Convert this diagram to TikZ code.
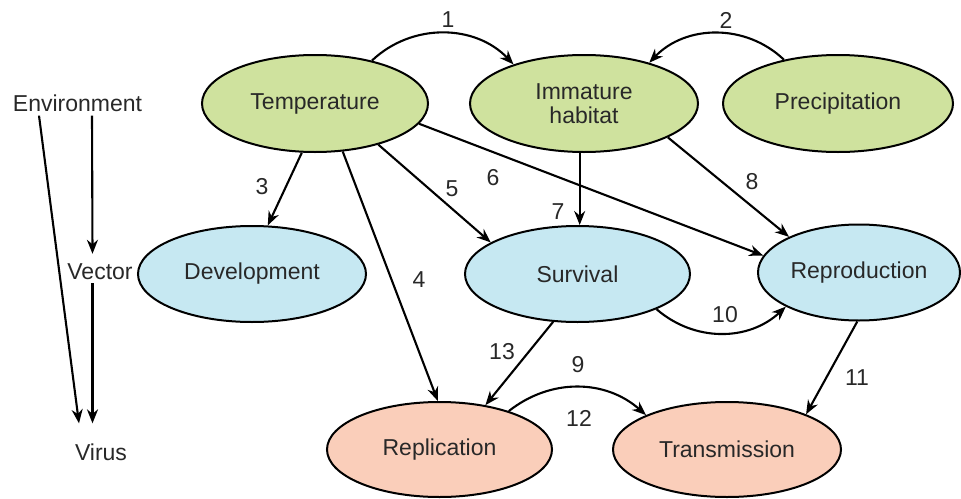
\documentclass[tikz,border=0pt]{standalone}
\usepackage{fontspec}
\setmainfont{Liberation Sans}
\usetikzlibrary{shapes.geometric,arrows.meta}
\definecolor{envgreen}{RGB}{207,226,158}
\definecolor{vecblue}{RGB}{198,232,242}
\definecolor{virpeach}{RGB}{250,206,186}
\definecolor{txt}{RGB}{40,40,40}
\begin{document}
\begin{tikzpicture}[x=1pt,y=-1pt,
  every node/.style={font=\fontsize{23}{26}\selectfont, text=txt},
  oval/.style={ellipse, draw=black, line width=2, inner sep=0pt, minimum height=97, align=center},
  envn/.style={oval, fill=envgreen},
  vecn/.style={oval, fill=vecblue},
  virn/.style={oval, fill=virpeach},
  arr/.style={line width=2.1, -{Stealth[length=14,width=11]}},
  lab/.style={inner sep=0pt}
]
\useasboundingbox (0,0) rectangle (961,498);
% nodes
\node[envn, minimum width=226] (temp) at (315,103.5) {Temperature};
\node[envn, minimum width=228] (imm) at (584,103.5) {Immature\\[-2pt]habitat};
\node[envn, minimum width=230] (prec) at (838,103.5) {Precipitation};
\node[vecn, minimum width=228, minimum height=96] (dev) at (252,274) {Development};
\node[vecn, minimum width=225, minimum height=96] (surv) at (577.5,274) {Survival};
\node[vecn, minimum width=202, minimum height=96] (repro) at (859,272.5) {Reproduction};
\node[virn, minimum width=225, minimum height=95] (repl) at (439.5,449.5) {Replication};
\node[virn, minimum width=228, minimum height=95] (trans) at (727,449.5) {Transmission};
% left labels
\node[lab] (env) at (77.5,103) {Environment};
\node[lab] (vec) at (100,272) {Vector};
\node[lab] (vir) at (101,452) {Virus};
\draw[arr] ([xshift=-38.5,yshift=-4]env.south) -- ([xshift=-22,yshift=20]vir.north);
\draw[arr] ([xshift=14.5,yshift=-4]env.south) -- ([xshift=-7.5,yshift=10]vec.north);
\draw[arr] ([xshift=-7.5,yshift=-3]vec.south) -- ([xshift=-8.5,yshift=20]vir.north);
% edges
\draw[arr] (temp.37) to[bend left=45] (imm.151);
\draw[arr] (prec.141) to[bend right=45] (imm.32);
\draw[arr] (temp.-105) -- (dev.72);
\draw[arr] (temp.-60) -- (repl.92);
\draw[arr] (temp.-33) -- (surv.160);
\draw[arr] (temp.-11) -- (repro.170);
\draw[arr] (imm.-95) -- (imm.-95 |- surv.north);
\draw[arr] (imm.-22) -- (repro.153);
\draw[arr] (surv.-24) to[bend right=42] (repro.-155);
\draw[arr] (repro.-92) -- (trans.24.5);
\draw[arr] (surv.-117) -- (repl.44);
\draw[arr] (repl.29) to[bend left=40] (trans.157);
% edge labels
\node[lab] (l1) at (448,20) {1};
\node[lab] (l2) at (726,20) {2};
\node[lab] (l3) at (262,187) {3};
\node[lab] (l4) at (419,280) {4};
\node[lab] (l5) at (452,189) {5};
\node[lab] (l6) at (493,178) {6};
\node[lab] (l7) at (558,212) {7};
\node[lab] (l8) at (752,182) {8};
\node[lab] (l9) at (578,365) {9};
\node[lab] (l10) at (725,315) {10};
\node[lab] (l11) at (857,378) {11};
\node[lab] (l12) at (579,418) {12};
\node[lab] (l13) at (502,352) {13};
\end{tikzpicture}
\end{document}
